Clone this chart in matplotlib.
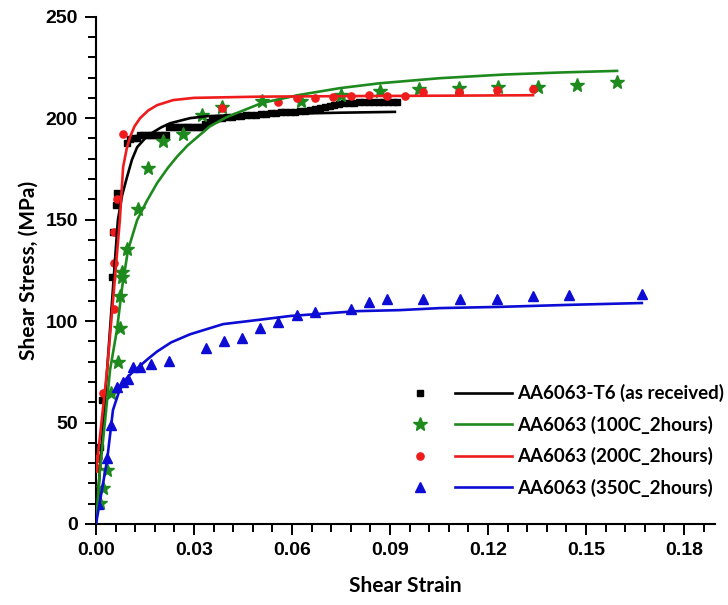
import matplotlib
matplotlib.use("Agg")
import matplotlib.pyplot as plt
from matplotlib.legend_handler import HandlerTuple
from matplotlib.ticker import MultipleLocator, FormatStrFormatter
from matplotlib.lines import Line2D
from matplotlib.font_manager import FontProperties

# --- measured points (shear strain, shear stress in MPa) ---
t6_x = [0.0003, 0.0012, 0.0018, 0.0049, 0.0052, 0.0061, 0.0064,
        0.0095, 0.0104, 0.0115, 0.0125, 0.0135, 0.0145, 0.0155, 0.0165, 0.0175,
        0.0185, 0.0195, 0.0205, 0.0215, 0.0225, 0.0235, 0.0245, 0.0255, 0.0265,
        0.0275, 0.0285, 0.0295, 0.0305, 0.0315, 0.0325, 0.0335, 0.0345, 0.0355,
        0.0365, 0.0375, 0.0385, 0.0400, 0.0415, 0.0430, 0.0445, 0.0460, 0.0475,
        0.0490, 0.0505, 0.0520, 0.0535, 0.0550, 0.0565, 0.0580, 0.0595, 0.0610,
        0.0625, 0.0640, 0.0655, 0.0670, 0.0685, 0.0700, 0.0715, 0.0730, 0.0745,
        0.0760, 0.0775, 0.0790, 0.0805, 0.0820, 0.0835, 0.0850, 0.0865, 0.0880,
        0.0895, 0.0910, 0.0921]
t6_y = [13.3, 37.9, 61.0, 121.7, 143.8, 157.0, 163.0,
        188.0, 189.5, 190.0, 190.0, 191.5, 191.5, 191.5, 191.5, 191.5,
        191.5, 191.5, 191.5, 191.5, 195.5, 195.5, 195.5, 195.5, 195.5,
        195.5, 195.5, 195.5, 195.5, 195.5, 195.5, 197.0, 198.0, 199.0,
        199.5, 200.0, 200.3, 200.5, 200.8, 201.0, 201.2, 201.4, 201.6,
        201.8, 202.0, 202.2, 202.4, 202.6, 202.8, 203.0, 203.1, 203.2,
        203.4, 203.6, 204.0, 204.5, 205.0, 205.5, 206.0, 206.5, 207.0,
        207.3, 207.5, 207.7, 207.8, 207.9, 208.0, 208.0, 208.0, 208.0,
        208.0, 208.0, 208.0]

h100_x = [0.0012, 0.0021, 0.0034, 0.0046, 0.0067, 0.0073, 0.0073, 0.0080, 0.0080,
          0.0095, 0.0129, 0.0159, 0.0205, 0.0266, 0.0324, 0.0386, 0.0508, 0.0628,
          0.0750, 0.0869, 0.0989, 0.1111, 0.1231, 0.1353, 0.1472, 0.1595]
h100_y = [10.3, 17.7, 26.6, 64.5, 79.8, 96.6, 112.3, 121.7, 124.1,
          135.5, 155.2, 175.4, 188.7, 192.1, 201.5, 205.4, 208.4, 208.4,
          211.3, 213.3, 214.3, 214.8, 215.3, 215.3, 216.3, 217.7]

h200_x = [0.0003, 0.0006, 0.0020, 0.0055, 0.0055, 0.0055, 0.0064, 0.0083,
          0.0386, 0.0557, 0.0615, 0.0670, 0.0725, 0.0780, 0.0836, 0.0891,
          0.0946, 0.1001, 0.1111, 0.1227, 0.1338]
h200_y = [27.6, 32.5, 64.5, 106.0, 128.6, 143.8, 160.0, 192.0,
          204.9, 207.9, 209.9, 209.9, 210.3, 210.8, 211.3, 210.9,
          210.9, 213.0, 213.0, 213.9, 214.4]

h350_x = [0.0006, 0.0034, 0.0046, 0.0064, 0.0083, 0.0098, 0.0113, 0.0135, 0.0168,
          0.0223, 0.0337, 0.0392, 0.0447, 0.0502, 0.0557, 0.0615, 0.0670, 0.0780,
          0.0836, 0.0891, 0.1001, 0.1114, 0.1227, 0.1338, 0.1448, 0.1671]
h350_y = [10.0, 32.5, 48.8, 67.5, 70.0, 71.4, 77.3, 77.3, 78.8,
          80.3, 86.7, 90.1, 91.6, 96.6, 99.5, 103.0, 104.4, 105.9,
          109.4, 110.8, 110.8, 110.8, 110.8, 112.3, 112.8, 113.3]

# --- fitted curves ---
t6_fit_x = [0.0, 0.0034, 0.0067, 0.0080, 0.0095, 0.0110, 0.0126, 0.0150, 0.0174,
            0.0200, 0.0227, 0.0288, 0.0340, 0.0450, 0.0600, 0.0750, 0.0915]
t6_fit_y = [0.0, 75.9, 149.8, 162.0, 171.0, 179.5, 185.7, 190.0, 193.0,
            195.5, 197.5, 200.0, 201.0, 201.5, 202.2, 202.7, 203.1]

h100_fit_x = [0.0, 0.0012, 0.0028, 0.0043, 0.0064, 0.0080, 0.0098, 0.0126, 0.0155,
              0.0187, 0.0220, 0.0248, 0.0280, 0.0309, 0.0349, 0.0400, 0.0508,
              0.0624, 0.0747, 0.0869, 0.1053, 0.1250, 0.1420, 0.1595]
h100_fit_y = [0.0, 26.6, 51.2, 75.9, 95.6, 116.7, 135.0, 149.8, 159.0,
              168.0, 175.5, 181.0, 186.5, 190.5, 196.0, 200.5, 207.5,
              211.5, 214.8, 217.2, 219.7, 221.5, 222.5, 223.3]

h200_fit_x = [0.0, 0.0012, 0.0034, 0.0073, 0.0083, 0.0094, 0.0104, 0.0118, 0.0135,
              0.0160, 0.0187, 0.0236, 0.0300, 0.0500, 0.0800, 0.1100, 0.1338]
h200_fit_y = [26.0, 42.9, 75.9, 149.8, 175.9, 185.0, 190.6, 196.0, 200.0,
              203.8, 206.4, 208.9, 210.0, 210.6, 210.9, 211.1, 211.3]

h350_fit_x = [0.0, 0.0034, 0.0052, 0.0070, 0.0089, 0.0110, 0.0135, 0.0160, 0.0187,
              0.0230, 0.0288, 0.0389, 0.0493, 0.0594, 0.0799, 0.0930, 0.1053,
              0.1237, 0.1450, 0.1671]
h350_fit_y = [0.0, 31.5, 56.2, 65.0, 71.0, 74.5, 78.0, 81.5, 85.0,
              89.5, 93.5, 98.5, 100.5, 102.5, 104.9, 105.4, 106.4,
              107.0, 108.0, 108.9]

labels = ["AA6063-T6 (as received)", "AA6063 (100C_2hours)",
          "AA6063 (200C_2hours)", "AA6063 (350C_2hours)"]

c_black = "#000000"
c_green = "#1e8a1e"
c_red = "#ee1c1c"
c_blue = "#0c0cd4"

fig = plt.figure(figsize=(7.28, 6.05), dpi=100)
ax = fig.add_axes([96 / 728, 1 - 524 / 605, (715 - 96) / 728, (524 - 16.7) / 605])

lw = 1.9
# symbols
ax.plot(t6_x, t6_y, ls="none", marker="s", ms=4.4, color=c_black, zorder=3)
ax.plot(h100_x, h100_y, ls="none", marker="*", ms=10, color=c_green, zorder=3)
ax.plot(h200_x, h200_y, ls="none", marker="o", ms=5.2, color=c_red, zorder=3)
ax.plot(h350_x, h350_y, ls="none", marker="^", ms=6.5, color=c_blue, zorder=3)
# fits
ax.plot(t6_fit_x, t6_fit_y, color=c_black, lw=lw, zorder=4)
ax.plot(h100_fit_x, h100_fit_y, color=c_green, lw=lw, zorder=4)
ax.plot(h200_fit_x, h200_fit_y, color=c_red, lw=lw, zorder=4)
ax.plot(h350_fit_x, h350_fit_y, color=c_blue, lw=lw, zorder=4)

ax.set_xlim(0, 0.1895)
ax.set_ylim(0, 250)

for s in ["top", "right"]:
    ax.spines[s].set_visible(False)
for s in ["left", "bottom"]:
    ax.spines[s].set_linewidth(1.5)

ax.xaxis.set_major_locator(MultipleLocator(0.03))
ax.xaxis.set_minor_locator(MultipleLocator(0.006))
ax.xaxis.set_major_formatter(FormatStrFormatter("%.2f"))
ax.yaxis.set_major_locator(MultipleLocator(50))
ax.yaxis.set_minor_locator(MultipleLocator(10))
ax.tick_params(which="major", length=8, width=1.4, direction="out", pad=5)
ax.tick_params(which="minor", length=5.5, width=1.4, direction="out")

tick_fp = FontProperties(family="Liberation Sans", weight="bold", size=14)
for lab in ax.get_xticklabels() + ax.get_yticklabels():
    lab.set_fontproperties(tick_fp)

ax.set_xlabel("Shear Strain", family="Lato", weight="bold", fontsize=15, labelpad=12)
ax.set_ylabel("Shear Stress, (MPa)", family="Lato", weight="bold", fontsize=15, labelpad=5)

# Origin-style legend: symbol, then line, then text
handles = []
for c, m, ms in [(c_black, "s", 4.0), (c_green, "*", 10), (c_red, "o", 5.2), (c_blue, "^", 6.5)]:
    sym = Line2D([], [], ls="none", marker=m, ms=ms, color=c)
    ln = Line2D([], [], color=c, lw=lw)
    handles.append((sym, ln))

fig.legend(handles, labels, handler_map={tuple: HandlerTuple(ndivide=None, pad=0.37)},
           loc="upper left", bbox_to_anchor=(391 / 728, 1 - 384 / 605),
           frameon=False, borderpad=0, borderaxespad=0, handlelength=6.45,
           handletextpad=0.27, labelspacing=0.72,
           prop={"family": "Lato", "weight": "bold", "size": 13.5})

fig.savefig("out.png", dpi=100)
